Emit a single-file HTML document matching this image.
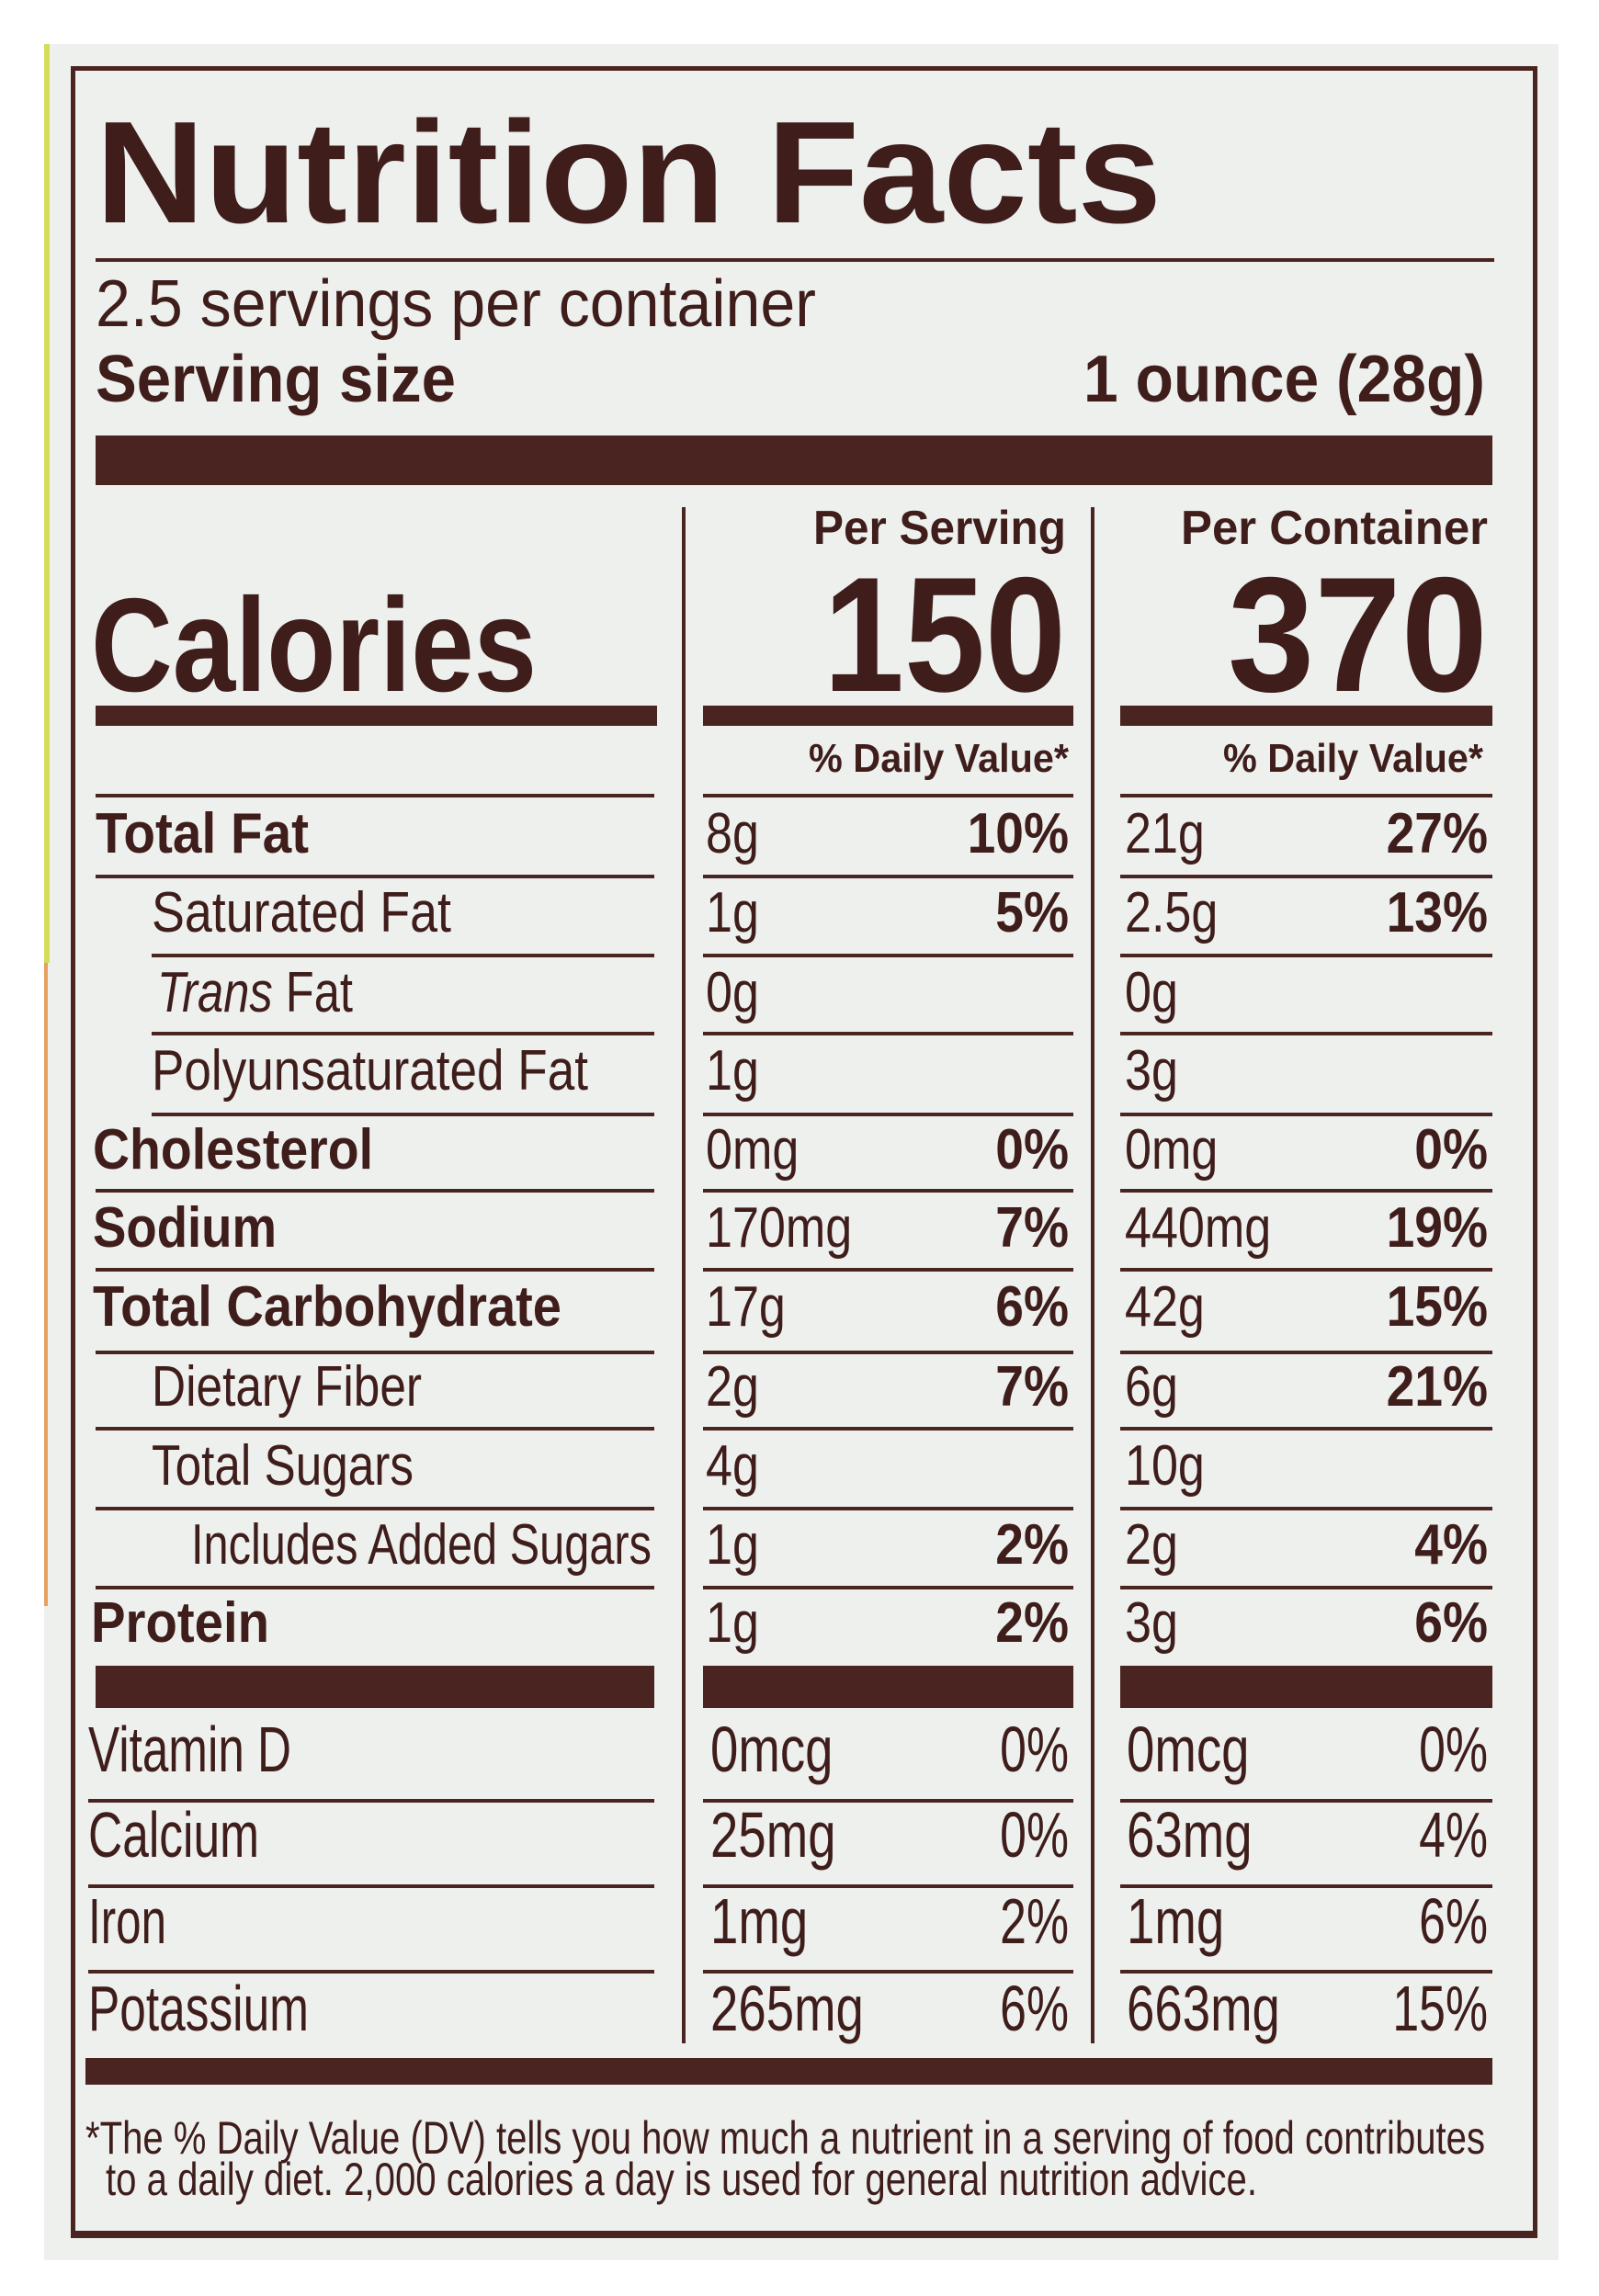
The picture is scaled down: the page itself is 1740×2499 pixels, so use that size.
<!DOCTYPE html>
<html><head><meta charset="utf-8"><style>
html,body{margin:0;padding:0;background:#fff;}
svg{display:block;}
text{font-family:"Liberation Sans",sans-serif;fill:#3e1d1b;}
.b{font-weight:bold;}
</style></head><body>
<svg width="1740" height="2499" viewBox="0 0 1740 2499" xmlns="http://www.w3.org/2000/svg">
<rect x="48" y="48" width="1648" height="2412" fill="#eef0ee"/>
<rect x="48" y="48" width="6" height="1000" fill="#d4dc5a"/>
<rect x="48" y="1048" width="4" height="700" fill="#e8a060"/>
<rect x="79.5" y="74.5" width="1591" height="2358" fill="none" stroke="#4a2421" stroke-width="5"/>
<rect x="77" y="2428" width="1596" height="8" fill="#4a2421"/>
<g fill="#4a2421">
<rect x="104" y="281" width="1522" height="4"/>
<rect x="104" y="474" width="1520" height="54"/>
<rect x="742" y="552" width="4" height="1672"/>
<rect x="1187" y="552" width="4" height="1672"/>
<rect x="104" y="768" width="611" height="22"/>
<rect x="765" y="768" width="403" height="22"/>
<rect x="1219" y="768" width="405" height="22"/>
<rect x="104" y="1813" width="608" height="46"/>
<rect x="765" y="1813" width="403" height="46"/>
<rect x="1219" y="1813" width="405" height="46"/>
<rect x="93" y="2240" width="1531" height="29"/>
</g>
<g fill="#4a2421">
<rect x="104" y="864" width="608" height="4"/><rect x="765" y="864" width="403" height="4"/><rect x="1219" y="864" width="405" height="4"/>
<rect x="104" y="952" width="608" height="4"/><rect x="765" y="952" width="403" height="4"/><rect x="1219" y="952" width="405" height="4"/>
<rect x="165" y="1038" width="547" height="4"/><rect x="765" y="1038" width="403" height="4"/><rect x="1219" y="1038" width="405" height="4"/>
<rect x="165" y="1123" width="547" height="4"/><rect x="765" y="1123" width="403" height="4"/><rect x="1219" y="1123" width="405" height="4"/>
<rect x="165" y="1211" width="547" height="4"/><rect x="765" y="1211" width="403" height="4"/><rect x="1219" y="1211" width="405" height="4"/>
<rect x="104" y="1294" width="608" height="4"/><rect x="765" y="1294" width="403" height="4"/><rect x="1219" y="1294" width="405" height="4"/>
<rect x="104" y="1380" width="608" height="4"/><rect x="765" y="1380" width="403" height="4"/><rect x="1219" y="1380" width="405" height="4"/>
<rect x="104" y="1470" width="608" height="4"/><rect x="765" y="1470" width="403" height="4"/><rect x="1219" y="1470" width="405" height="4"/>
<rect x="104" y="1553" width="608" height="4"/><rect x="765" y="1553" width="403" height="4"/><rect x="1219" y="1553" width="405" height="4"/>
<rect x="104" y="1640" width="608" height="4"/><rect x="765" y="1640" width="403" height="4"/><rect x="1219" y="1640" width="405" height="4"/>
<rect x="104" y="1726" width="608" height="4"/><rect x="765" y="1726" width="403" height="4"/><rect x="1219" y="1726" width="405" height="4"/>
<rect x="96" y="1958" width="616" height="4"/><rect x="765" y="1958" width="403" height="4"/><rect x="1219" y="1958" width="405" height="4"/>
<rect x="96" y="2051" width="616" height="4"/><rect x="765" y="2051" width="403" height="4"/><rect x="1219" y="2051" width="405" height="4"/>
<rect x="96" y="2144" width="616" height="4"/><rect x="765" y="2144" width="403" height="4"/><rect x="1219" y="2144" width="405" height="4"/>
</g>

<text class="b" x="104" y="242" font-size="158" textLength="1160" lengthAdjust="spacingAndGlyphs">Nutrition Facts</text>
<text x="104" y="355" font-size="72" textLength="784" lengthAdjust="spacingAndGlyphs">2.5 servings per container</text>
<text class="b" x="104" y="437" font-size="72" textLength="392" lengthAdjust="spacingAndGlyphs">Serving size</text>
<text class="b" x="1179" y="437" font-size="72" textLength="437" lengthAdjust="spacingAndGlyphs">1 ounce (28g)</text>

<text class="b" x="885" y="592" font-size="52" textLength="275" lengthAdjust="spacingAndGlyphs">Per Serving</text>
<text class="b" x="1285" y="592" font-size="52" textLength="334" lengthAdjust="spacingAndGlyphs">Per Container</text>
<text class="b" x="99" y="752" font-size="145" textLength="485" lengthAdjust="spacingAndGlyphs">Calories</text>
<text class="b" x="896" y="752" font-size="178" textLength="264" lengthAdjust="spacingAndGlyphs">150</text>
<text class="b" x="1336" y="752" font-size="178" textLength="283" lengthAdjust="spacingAndGlyphs">370</text>
<text class="b" x="880" y="840" font-size="44" textLength="283" lengthAdjust="spacingAndGlyphs">% Daily Value*</text>
<text class="b" x="1331" y="840" font-size="44" textLength="283" lengthAdjust="spacingAndGlyphs">% Daily Value*</text>

<g font-size="62">
<text class="b" x="104" y="928" textLength="232" lengthAdjust="spacingAndGlyphs">Total Fat</text>
<text x="165" y="1014" textLength="326" lengthAdjust="spacingAndGlyphs">Saturated Fat</text>
<text x="171" y="1101" textLength="213" lengthAdjust="spacingAndGlyphs"><tspan font-style="italic">Trans</tspan> Fat</text>
<text x="165" y="1186" textLength="475" lengthAdjust="spacingAndGlyphs">Polyunsaturated Fat</text>
<text class="b" x="101" y="1272" textLength="305" lengthAdjust="spacingAndGlyphs">Cholesterol</text>
<text class="b" x="101" y="1357" textLength="200" lengthAdjust="spacingAndGlyphs">Sodium</text>
<text class="b" x="101" y="1443" textLength="510" lengthAdjust="spacingAndGlyphs">Total Carbohydrate</text>
<text x="165" y="1530" textLength="294" lengthAdjust="spacingAndGlyphs">Dietary Fiber</text>
<text x="165" y="1616" textLength="285" lengthAdjust="spacingAndGlyphs">Total Sugars</text>
<text x="208" y="1702" textLength="501" lengthAdjust="spacingAndGlyphs">Includes Added Sugars</text>
<text class="b" x="99" y="1787" textLength="194" lengthAdjust="spacingAndGlyphs">Protein</text>

<text transform="translate(768,928) scale(.84,1)">8g</text>
<text transform="translate(768,1014) scale(.84,1)">1g</text>
<text transform="translate(768,1101) scale(.84,1)">0g</text>
<text transform="translate(768,1186) scale(.84,1)">1g</text>
<text transform="translate(768,1272) scale(.84,1)">0mg</text>
<text transform="translate(768,1357) scale(.84,1)">170mg</text>
<text transform="translate(768,1443) scale(.84,1)">17g</text>
<text transform="translate(768,1530) scale(.84,1)">2g</text>
<text transform="translate(768,1616) scale(.84,1)">4g</text>
<text transform="translate(768,1702) scale(.84,1)">1g</text>
<text transform="translate(768,1787) scale(.84,1)">1g</text>

<g class="b" text-anchor="end">
<text transform="translate(1163,928) scale(.89,1)">10%</text>
<text transform="translate(1163,1014) scale(.89,1)">5%</text>
<text transform="translate(1163,1272) scale(.89,1)">0%</text>
<text transform="translate(1163,1357) scale(.89,1)">7%</text>
<text transform="translate(1163,1443) scale(.89,1)">6%</text>
<text transform="translate(1163,1530) scale(.89,1)">7%</text>
<text transform="translate(1163,1702) scale(.89,1)">2%</text>
<text transform="translate(1163,1787) scale(.89,1)">2%</text>
<text transform="translate(1619,928) scale(.89,1)">27%</text>
<text transform="translate(1619,1014) scale(.89,1)">13%</text>
<text transform="translate(1619,1272) scale(.89,1)">0%</text>
<text transform="translate(1619,1357) scale(.89,1)">19%</text>
<text transform="translate(1619,1443) scale(.89,1)">15%</text>
<text transform="translate(1619,1530) scale(.89,1)">21%</text>
<text transform="translate(1619,1702) scale(.89,1)">4%</text>
<text transform="translate(1619,1787) scale(.89,1)">6%</text>
</g>

<text transform="translate(1224,928) scale(.84,1)">21g</text>
<text transform="translate(1224,1014) scale(.84,1)">2.5g</text>
<text transform="translate(1224,1101) scale(.84,1)">0g</text>
<text transform="translate(1224,1186) scale(.84,1)">3g</text>
<text transform="translate(1224,1272) scale(.84,1)">0mg</text>
<text transform="translate(1224,1357) scale(.84,1)">440mg</text>
<text transform="translate(1224,1443) scale(.84,1)">42g</text>
<text transform="translate(1224,1530) scale(.84,1)">6g</text>
<text transform="translate(1224,1616) scale(.84,1)">10g</text>
<text transform="translate(1224,1702) scale(.84,1)">2g</text>
<text transform="translate(1224,1787) scale(.84,1)">3g</text>
</g>

<g font-size="70">
<text x="96" y="1928" textLength="221" lengthAdjust="spacingAndGlyphs">Vitamin D</text>
<text x="96" y="2021" textLength="186" lengthAdjust="spacingAndGlyphs">Calcium</text>
<text x="96" y="2115" textLength="85" lengthAdjust="spacingAndGlyphs">Iron</text>
<text x="96" y="2210" textLength="240" lengthAdjust="spacingAndGlyphs">Potassium</text>
<text transform="translate(773,1928) scale(.78,1)">0mcg</text>
<text transform="translate(773,2021) scale(.78,1)">25mg</text>
<text transform="translate(773,2115) scale(.78,1)">1mg</text>
<text transform="translate(773,2210) scale(.78,1)">265mg</text>
<text transform="translate(1226,1928) scale(.78,1)">0mcg</text>
<text transform="translate(1226,2021) scale(.78,1)">63mg</text>
<text transform="translate(1226,2115) scale(.78,1)">1mg</text>
<text transform="translate(1226,2210) scale(.78,1)">663mg</text>
<g text-anchor="end">
<text transform="translate(1163,1928) scale(.74,1)">0%</text>
<text transform="translate(1163,2021) scale(.74,1)">0%</text>
<text transform="translate(1163,2115) scale(.74,1)">2%</text>
<text transform="translate(1163,2210) scale(.74,1)">6%</text>
<text transform="translate(1619,1928) scale(.74,1)">0%</text>
<text transform="translate(1619,2021) scale(.74,1)">4%</text>
<text transform="translate(1619,2115) scale(.74,1)">6%</text>
<text transform="translate(1619,2210) scale(.74,1)">15%</text>
</g>
</g>

<text x="93" y="2344" font-size="50" textLength="1523" lengthAdjust="spacingAndGlyphs">*The % Daily Value (DV) tells you how much a nutrient in a serving of food contributes</text>
<text x="115" y="2389" font-size="50" textLength="1253" lengthAdjust="spacingAndGlyphs">to a daily diet. 2,000 calories a day is used for general nutrition advice.</text>
</svg>
</body></html>
